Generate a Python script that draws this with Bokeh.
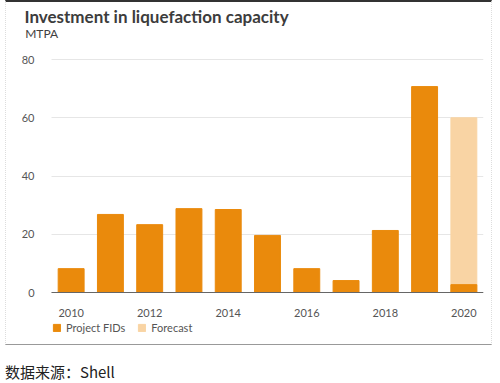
from bokeh.plotting import figure
from bokeh.models import Legend, LegendItem, FixedTicker, Range1d, ColumnDataSource, Label, Div, BoxAnnotation
from bokeh.layouts import column
from bokeh.embed import file_html
from bokeh.resources import INLINE

years = [2010, 2011, 2012, 2013, 2014, 2015, 2016, 2017, 2018, 2019, 2020]
project_fids = [8.2, 26.8, 23.3, 28.8, 28.5, 19.6, 8.2, 4.1, 21.3, 70.7, 2.7]
forecast_years = [2020]
forecast_total = [60.0]
x_tick_labels = ["2010", "2012", "2014", "2016", "2018", "2020"]
y_ticks = [0, 20, 40, 60, 80]

ORANGE = "#EA8A0C"
LIGHT = "#F9D4A4"
X0, X1 = 2009.5, 2020.5

p = figure(width=487, height=345, output_backend="svg", toolbar_location=None,
           x_range=Range1d(2008.354, X1), y_range=Range1d(-18.88, 99.57),
           min_border_left=0, min_border_right=10, min_border_top=0, min_border_bottom=0,
           styles={"border-top": "2px solid #333333", "border-bottom": "1px solid #999999",
                   "border-left": "1px dotted #dddddd", "border-right": "1px dotted #dddddd",
                   "margin-left": "5px"})
p.outline_line_color = None

p.ygrid.grid_line_color = "#e6e6e6"
p.ygrid.grid_line_width = 1
p.xgrid.grid_line_color = None
try:
    p.ygrid[0].cross_bounds = (X0, X1)
except Exception:
    p.add_layout(BoxAnnotation(right=X0, fill_color="white", fill_alpha=1.0, line_color=None,
                               level="underlay"))

p.add_layout(Label(x=2008.812, y=94.76, text="Investment in liquefaction capacity",
                   text_font="Lato", text_font_size="17px", text_font_style="bold",
                   text_color="#3c3c3c", text_align="left", text_baseline="middle"))
p.add_layout(Label(x=2008.83, y=88.93, text="MTPA", text_font="Lato", text_font_size="12px",
                   text_color="#404040", text_align="left", text_baseline="middle"))

src = ColumnDataSource(dict(x=years, y=project_fids))
fsrc = ColumnDataSource(dict(x=forecast_years, y=forecast_total))
r_fc = p.vbar(x="x", top="y", bottom=0, width=0.66, color=LIGHT, source=fsrc)
r_pf = p.vbar(x="x", top="y", bottom=0, width=0.66, color=ORANGE, source=src)

p.xaxis.ticker = FixedTicker(ticks=[int(t) for t in x_tick_labels])
p.xaxis.fixed_location = 0
p.xaxis.bounds = (X0, X1)
p.yaxis.ticker = FixedTicker(ticks=y_ticks)
p.yaxis.fixed_location = X0
for ax in (p.xaxis, p.yaxis):
    ax.major_tick_line_color = None
    ax.minor_tick_line_color = None
    ax.major_label_text_font = "Lato"
    ax.major_label_text_font_size = "11px"
    ax.major_label_text_color = "#555555"
p.yaxis.axis_line_color = None
p.xaxis.axis_line_color = "#666666"
p.xaxis.major_label_standoff = 10
p.yaxis.major_label_standoff = 11

legend = Legend(items=[LegendItem(label="Project FIDs", renderers=[r_pf]),
                       LegendItem(label="Forecast", renderers=[r_fc])],
                orientation="horizontal", location=(46, 13),
                border_line_color=None, background_fill_alpha=0,
                label_text_font="Lato", label_text_font_size="11px", label_text_color="#555555",
                glyph_width=9, glyph_height=9, spacing=12, padding=0, margin=0,
                label_standoff=5, label_height=12)
p.add_layout(legend, "center")

caption = Div(text="数据来源：Shell",
              styles={"font-family": "Noto Sans CJK SC", "font-size": "15px", "color": "#222222",
                      "margin-top": "16px"})

layout = column(p, caption, spacing=0)
open("out.html", "w").write(file_html(layout, INLINE))
